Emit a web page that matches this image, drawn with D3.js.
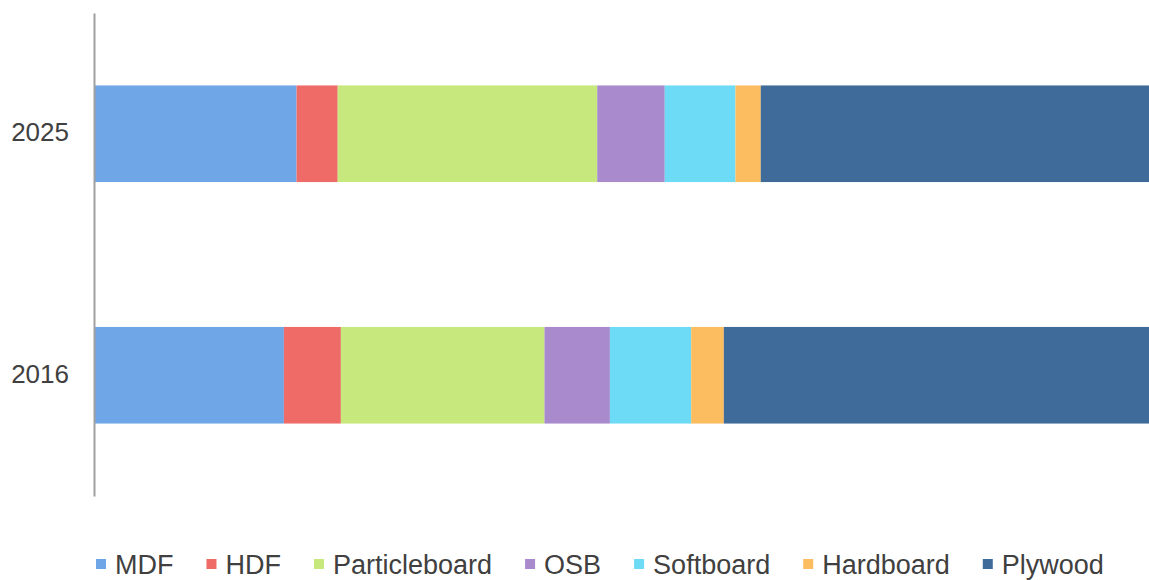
<!DOCTYPE html>
<html>
<head>
<meta charset="utf-8">
<script src="https://cdn.jsdelivr.net/npm/d3@7"></script>
<style>
  html, body { margin: 0; padding: 0; background: #fff; }
  svg { display: block; font-family: "Liberation Sans", Arial, sans-serif; }
</style>
</head>
<body>
<svg id="chart" width="1149" height="580"></svg>
<script>
// Years shown as rows, top to bottom
const years = ["2025", "2016"];
// Wood panel products, in stacking order
const products = ["MDF", "HDF", "Particleboard", "OSB", "Softboard", "Hardboard", "Plywood"];
// Share of each product (%), one array per year
const share2025 = [19.2, 3.9, 24.6, 6.4, 6.7, 2.4, 36.8];
const share2016 = [18.0, 5.4, 19.3, 6.2, 7.7, 3.1, 40.3];
const colors = ["#6ea6e8", "#ee6b68", "#c6e87c", "#a98acd", "#6ddbf5", "#fbbd5f", "#3e6b9a"];

const rows = years.map((y, i) => {
  const vals = i === 0 ? share2025 : share2016;
  const row = { year: y };
  products.forEach((p, j) => row[p] = vals[j]);
  return row;
});

const svg = d3.select("#chart");
const left = 94, right = 1149;

const x = d3.scaleLinear().domain([0, 100]).range([left, right]);
const y = d3.scaleBand().domain(years).range([13, 496]).paddingInner(0.6).paddingOuter(0.3);
const color = d3.scaleOrdinal().domain(products).range(colors);

const stack = d3.stack().keys(products)(rows);

svg.append("g")
  .selectAll("g")
  .data(stack)
  .join("g")
    .attr("fill", d => color(d.key))
  .selectAll("rect")
  .data(d => d)
  .join("rect")
    .attr("x", d => x(d[0]))
    .attr("width", d => x(d[1]) - x(d[0]))
    .attr("y", d => y(d.data.year))
    .attr("height", y.bandwidth());

// Category axis on the left
const axis = svg.append("g")
  .attr("transform", `translate(${left},0)`)
  .call(d3.axisLeft(y).tickSize(0).tickPadding(25));
axis.select(".domain").attr("stroke", "#a0a0a0").attr("stroke-width", 2);
axis.selectAll("text")
  .attr("font-size", 26)
  .attr("fill", "#404040")
  .attr("dy", "0.28em")
  .attr("font-family", "'Liberation Sans', Arial, sans-serif");

// Legend along the bottom
const legend = svg.append("g").attr("transform", "translate(96,574)");
let cx = 0;
products.forEach((p, i) => {
  const g = legend.append("g").attr("transform", `translate(${cx},0)`);
  g.append("rect")
    .attr("x", 0).attr("y", -15)
    .attr("width", 10).attr("height", 10)
    .attr("fill", colors[i]);
  const t = g.append("text")
    .attr("x", 19).attr("y", 0)
    .attr("font-size", 27)
    .attr("fill", "#404040")
    .text(p);
  cx += 19 + t.node().getComputedTextLength() + 33;
});
</script>
</body>
</html>
